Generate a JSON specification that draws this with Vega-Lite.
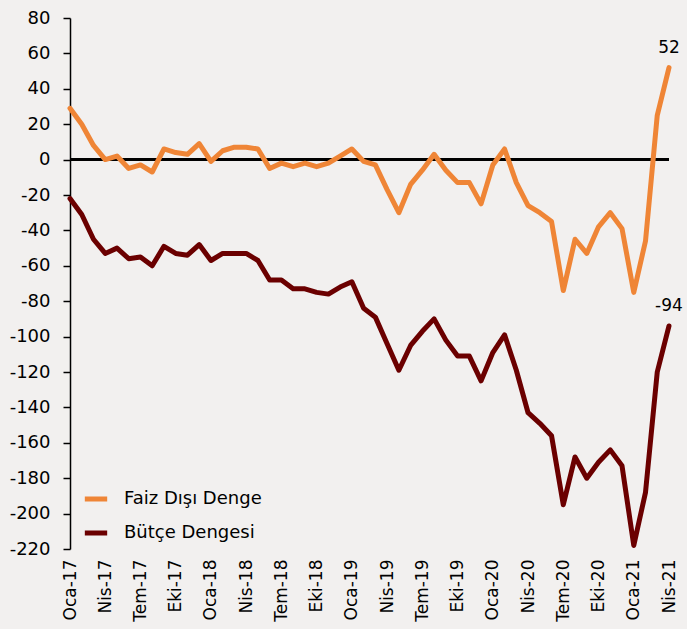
{
  "$schema": "https://vega.github.io/schema/vega-lite/v6.json",
  "width": 599,
  "height": 531,
  "autosize": {"type": "none"},
  "padding": {"left": 70, "top": 18, "right": 18, "bottom": 80},
  "background": "#F2F0EF",
  "config": {
    "view": {"stroke": null},
    "font": "DejaVu Sans",
    "text": {"font": "DejaVu Sans"}
  },
  "data": {
    "values": [
      {"ay": "Oca-17", "Faiz Dışı Denge": 29, "Bütçe Dengesi": -22},
      {"ay": "Şub-17", "Faiz Dışı Denge": 20, "Bütçe Dengesi": -31},
      {"ay": "Mar-17", "Faiz Dışı Denge": 8, "Bütçe Dengesi": -45},
      {"ay": "Nis-17", "Faiz Dışı Denge": 0, "Bütçe Dengesi": -53},
      {"ay": "May-17", "Faiz Dışı Denge": 2, "Bütçe Dengesi": -50},
      {"ay": "Haz-17", "Faiz Dışı Denge": -5, "Bütçe Dengesi": -56},
      {"ay": "Tem-17", "Faiz Dışı Denge": -3, "Bütçe Dengesi": -55},
      {"ay": "Ağu-17", "Faiz Dışı Denge": -7, "Bütçe Dengesi": -60},
      {"ay": "Eyl-17", "Faiz Dışı Denge": 6, "Bütçe Dengesi": -49},
      {"ay": "Eki-17", "Faiz Dışı Denge": 4, "Bütçe Dengesi": -53},
      {"ay": "Kas-17", "Faiz Dışı Denge": 3, "Bütçe Dengesi": -54},
      {"ay": "Ara-17", "Faiz Dışı Denge": 9, "Bütçe Dengesi": -48},
      {"ay": "Oca-18", "Faiz Dışı Denge": -1, "Bütçe Dengesi": -57},
      {"ay": "Şub-18", "Faiz Dışı Denge": 5, "Bütçe Dengesi": -53},
      {"ay": "Mar-18", "Faiz Dışı Denge": 7, "Bütçe Dengesi": -53},
      {"ay": "Nis-18", "Faiz Dışı Denge": 7, "Bütçe Dengesi": -53},
      {"ay": "May-18", "Faiz Dışı Denge": 6, "Bütçe Dengesi": -57},
      {"ay": "Haz-18", "Faiz Dışı Denge": -5, "Bütçe Dengesi": -68},
      {"ay": "Tem-18", "Faiz Dışı Denge": -2, "Bütçe Dengesi": -68},
      {"ay": "Ağu-18", "Faiz Dışı Denge": -4, "Bütçe Dengesi": -73},
      {"ay": "Eyl-18", "Faiz Dışı Denge": -2, "Bütçe Dengesi": -73},
      {"ay": "Eki-18", "Faiz Dışı Denge": -4, "Bütçe Dengesi": -75},
      {"ay": "Kas-18", "Faiz Dışı Denge": -2, "Bütçe Dengesi": -76},
      {"ay": "Ara-18", "Faiz Dışı Denge": 2, "Bütçe Dengesi": -72},
      {"ay": "Oca-19", "Faiz Dışı Denge": 6, "Bütçe Dengesi": -69},
      {"ay": "Şub-19", "Faiz Dışı Denge": -1, "Bütçe Dengesi": -84},
      {"ay": "Mar-19", "Faiz Dışı Denge": -3, "Bütçe Dengesi": -89},
      {"ay": "Nis-19", "Faiz Dışı Denge": -17, "Bütçe Dengesi": -104},
      {"ay": "May-19", "Faiz Dışı Denge": -30, "Bütçe Dengesi": -119},
      {"ay": "Haz-19", "Faiz Dışı Denge": -14, "Bütçe Dengesi": -105},
      {"ay": "Tem-19", "Faiz Dışı Denge": -6, "Bütçe Dengesi": -97},
      {"ay": "Ağu-19", "Faiz Dışı Denge": 3, "Bütçe Dengesi": -90},
      {"ay": "Eyl-19", "Faiz Dışı Denge": -6, "Bütçe Dengesi": -102},
      {"ay": "Eki-19", "Faiz Dışı Denge": -13, "Bütçe Dengesi": -111},
      {"ay": "Kas-19", "Faiz Dışı Denge": -13, "Bütçe Dengesi": -111},
      {"ay": "Ara-19", "Faiz Dışı Denge": -25, "Bütçe Dengesi": -125},
      {"ay": "Oca-20", "Faiz Dışı Denge": -3, "Bütçe Dengesi": -109},
      {"ay": "Şub-20", "Faiz Dışı Denge": 6, "Bütçe Dengesi": -99},
      {"ay": "Mar-20", "Faiz Dışı Denge": -13, "Bütçe Dengesi": -119},
      {"ay": "Nis-20", "Faiz Dışı Denge": -26, "Bütçe Dengesi": -143},
      {"ay": "May-20", "Faiz Dışı Denge": -30, "Bütçe Dengesi": -149},
      {"ay": "Haz-20", "Faiz Dışı Denge": -35, "Bütçe Dengesi": -156},
      {"ay": "Tem-20", "Faiz Dışı Denge": -74, "Bütçe Dengesi": -195},
      {"ay": "Ağu-20", "Faiz Dışı Denge": -45, "Bütçe Dengesi": -168},
      {"ay": "Eyl-20", "Faiz Dışı Denge": -53, "Bütçe Dengesi": -180},
      {"ay": "Eki-20", "Faiz Dışı Denge": -38, "Bütçe Dengesi": -171},
      {"ay": "Kas-20", "Faiz Dışı Denge": -30, "Bütçe Dengesi": -164},
      {"ay": "Ara-20", "Faiz Dışı Denge": -39, "Bütçe Dengesi": -173},
      {"ay": "Oca-21", "Faiz Dışı Denge": -75, "Bütçe Dengesi": -218},
      {"ay": "Şub-21", "Faiz Dışı Denge": -46, "Bütçe Dengesi": -188},
      {"ay": "Mar-21", "Faiz Dışı Denge": 25, "Bütçe Dengesi": -120},
      {"ay": "Nis-21", "Faiz Dışı Denge": 52, "Bütçe Dengesi": -94}
    ]
  },
  "transform": [
    {"fold": ["Faiz Dışı Denge", "Bütçe Dengesi"], "as": ["seri", "deger"]}
  ],
  "encoding": {
    "x": {
      "field": "ay",
      "type": "ordinal",
      "sort": null,
      "scale": {"type": "point", "padding": 0},
      "axis": {
        "title": null,
        "values": ["Oca-17","Nis-17","Tem-17","Eki-17","Oca-18","Nis-18","Tem-18","Eki-18","Oca-19","Nis-19","Tem-19","Eki-19","Oca-20","Nis-20","Tem-20","Eki-20","Oca-21","Nis-21"],
        "labelAngle": -90,
        "labelFontSize": 17,
        "labelFont": "DejaVu Sans",
        "labelColor": "#000000",
        "ticks": false,
        "tickSize": 0,
        "domain": false,
        "grid": false,
        "labelPadding": 10,
        "labelOverlap": false
      }
    },
    "y": {
      "field": "deger",
      "type": "quantitative",
      "scale": {"domain": [-220, 80], "nice": false, "zero": false},
      "axis": {
        "title": null,
        "values": [-220,-200,-180,-160,-140,-120,-100,-80,-60,-40,-20,0,20,40,60,80],
        "labelExpr": "replace(datum.label, '\u2212', '-')",
        "labelFontSize": 18,
        "labelFont": "DejaVu Sans",
        "labelColor": "#000000",
        "domainColor": "#000000",
        "domainWidth": 1.5,
        "tickColor": "#000000",
        "tickWidth": 1.5,
        "tickSize": 7,
        "labelPadding": 13,
        "grid": false
      }
    }
  },
  "layer": [
    {
      "mark": {"type": "rule", "color": "#000000", "strokeWidth": 1.5},
      "encoding": {"y": {"datum": 0}, "x": null}
    },
    {
      "mark": {"type": "line", "strokeWidth": 5, "strokeJoin": "round", "strokeCap": "round"},
      "encoding": {
        "color": {
          "field": "seri",
          "type": "nominal",
          "scale": {"domain": ["Faiz Dışı Denge", "Bütçe Dengesi"], "range": ["#EF8536", "#6B0000"]},
          "legend": {
            "title": null,
            "orient": "none",
            "legendX": 12,
            "legendY": 467,
            "symbolType": "stroke",
            "symbolStrokeWidth": 5,
            "symbolSize": 500,
            "labelFontSize": 18,
            "labelFont": "DejaVu Sans",
            "labelColor": "#000000",
            "labelOffset": 14,
            "rowPadding": 10,
            "padding": 0
          }
        }
      }
    },
    {
      "transform": [{"filter": "datum.ay === 'Nis-21'"}],
      "mark": {"type": "text", "dy": -15, "fontSize": 17, "color": "#000000", "baseline": "alphabetic"},
      "encoding": {"text": {"field": "deger", "type": "nominal"}}
    }
  ]
}
